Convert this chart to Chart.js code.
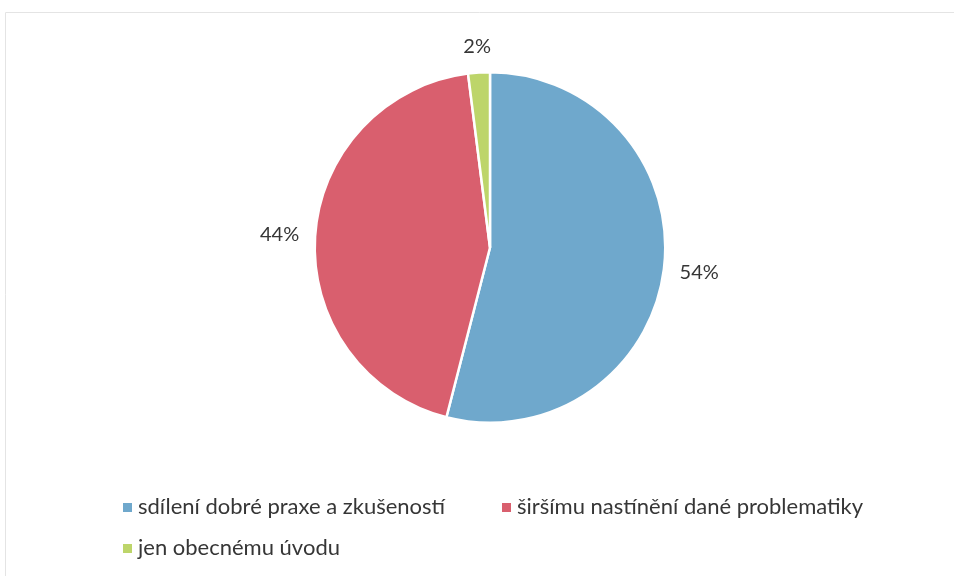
<!DOCTYPE html>
<html>
<head>
<meta charset="utf-8">
<script src="https://cdn.jsdelivr.net/npm/chart.js@4.4.1/dist/chart.umd.min.js"></script>
<style>
  html, body { margin: 0; padding: 0; background: #fff; }
  #wrap { width: 954px; height: 576px; position: relative; }
</style>
</head>
<body>
<div id="wrap"><canvas id="pie"></canvas></div>
<script>
// data
const categories = [
  "sdílení dobré praxe a zkušeností",
  "širšímu nastínění dané problematiky",
  "jen obecnému úvodu"
];
const shares = [54, 44, 2];
const colors = ["#6fa8cc", "#d95f6e", "#bdd56a"];

const FONT = "Lato, 'Liberation Sans', sans-serif";
const TEXT_COLOR = "#363636";

// outside-end percentage labels
const outsideLabels = {
  id: "outsideLabels",
  afterDatasetsDraw(chart) {
    const ctx = chart.ctx;
    const meta = chart.getDatasetMeta(0);
    ctx.save();
    ctx.font = "20px " + FONT;
    ctx.fillStyle = TEXT_COLOR;
    ctx.textAlign = "center";
    ctx.textBaseline = "middle";
    meta.data.forEach((arc, i) => {
      const mid = (arc.startAngle + arc.endAngle) / 2;
      const dx = Math.cos(mid), dy = Math.sin(mid);
      const txt = shares[i] + "%";
      const w = ctx.measureText(txt).width, h = 20;
      const r = arc.outerRadius + 16;
      const x = arc.x + dx * r + dx * w / 2;
      const y = arc.y + dy * r + dy * h / 2;
      ctx.fillText(txt, x, y);
    });
    ctx.restore();
  }
};

// legend drawn like the source (two rows, left aligned)
const legendSlots = [[123, 507], [502, 507], [123, 548]];
const customLegend = {
  id: "customLegend",
  afterDraw(chart) {
    const ctx = chart.ctx;
    ctx.save();
    ctx.font = "22px " + FONT;
    ctx.textBaseline = "middle";
    categories.forEach((c, i) => {
      const [x, y] = legendSlots[i];
      ctx.fillStyle = colors[i];
      ctx.fillRect(x, y - 4, 9, 9);
      ctx.fillStyle = TEXT_COLOR;
      ctx.fillText(c, x + 15, y);
    });
    // faint frame edge from the scan
    ctx.strokeStyle = "#e4e4e4";
    ctx.lineWidth = 1;
    ctx.beginPath();
    ctx.moveTo(5.5, 576);
    ctx.lineTo(5.5, 12.5);
    ctx.lineTo(954, 12.5);
    ctx.stroke();
    ctx.restore();
  }
};

new Chart(document.getElementById("pie"), {
  type: "pie",
  data: {
    labels: categories,
    datasets: [{
      data: shares,
      backgroundColor: colors,
      borderColor: "#ffffff",
      borderWidth: 2.5
    }]
  },
  options: {
    responsive: true,
    maintainAspectRatio: false,
    animation: false,
    layout: { padding: { top: 71, bottom: 152, left: 200, right: 174 } },
    plugins: {
      legend: { display: false },
      tooltip: { enabled: false }
    }
  },
  plugins: [outsideLabels, customLegend]
});
</script>
</body>
</html>
